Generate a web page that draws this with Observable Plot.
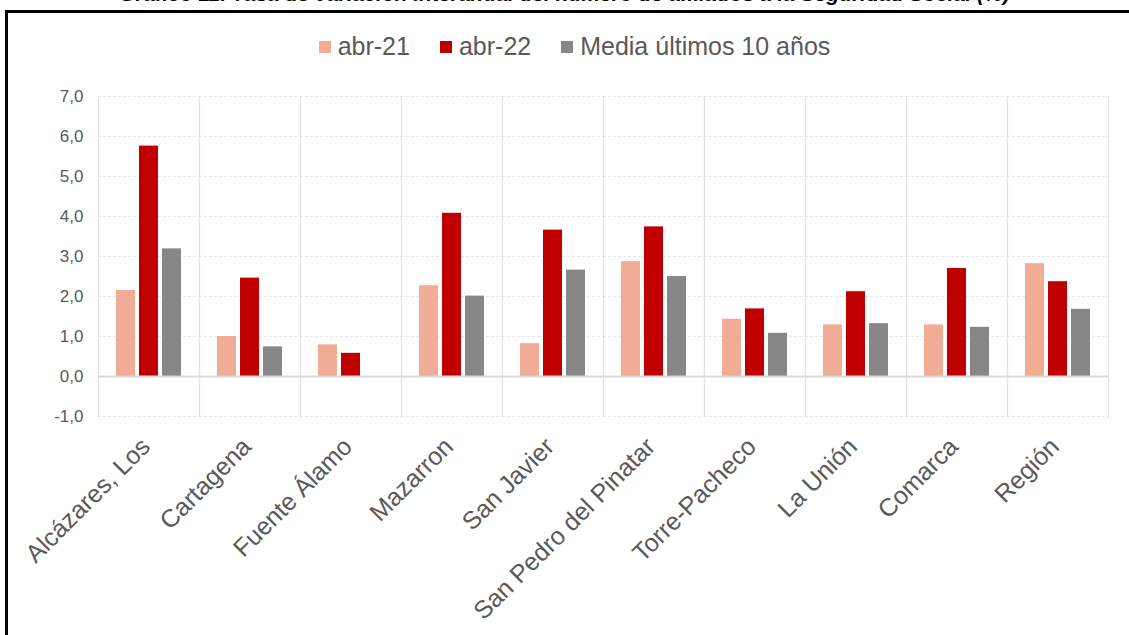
<!DOCTYPE html>
<html>
<head>
<meta charset="utf-8">
<script src="https://cdn.jsdelivr.net/npm/d3@7"></script>
<script src="https://cdn.jsdelivr.net/npm/@observablehq/plot@0.6"></script>
<style>
  html, body { margin: 0; padding: 0; background: #fff; overflow: hidden; }
  #wrap { position: relative; width: 1129px; height: 635px; overflow: hidden; font-family: "Liberation Sans", Arial, sans-serif; }
  #title { position: absolute; left: 0; width: 1129px; top: -18px; text-align: center; font-weight: bold; font-style: italic; font-size: 21px; color: #000; white-space: nowrap; }
  #frame { position: absolute; left: 5px; top: 10px; width: 1200px; height: 700px; border: 3px solid #000; box-sizing: border-box; }
  #legend { position: absolute; left: 10px; top: 32px; width: 1129px; display: flex; justify-content: center; align-items: center; gap: 30px; font-size: 25px; color: #595959; }
  #legend .item { display: flex; align-items: center; gap: 7px; }
  #legend .sw { width: 12px; height: 12px; display: inline-block; }
  #chart { position: absolute; left: 0; top: 80px; }
</style>
</head>
<body>
<div id="wrap">
  <div id="title">Gráfico 11. Tasa de variación interanual del número de afiliados a la Seguridad Social (%)</div>
  <div id="frame"></div>
  <div id="legend"></div>
  <div id="chart"></div>
</div>
<script>
const categories = ["Alcázares, Los", "Cartagena", "Fuente Álamo", "Mazarron", "San Javier", "San Pedro del Pinatar", "Torre-Pacheco", "La Unión", "Comarca", "Región"];
const series = ["abr-21", "abr-22", "Media últimos 10 años"];
const colors = ["#F1AC96", "#C00000", "#878787"];
const abr21 = [2.15, 1.00, 0.79, 2.27, 0.82, 2.87, 1.43, 1.29, 1.29, 2.82];
const abr22 = [5.76, 2.46, 0.58, 4.08, 3.66, 3.74, 1.69, 2.12, 2.70, 2.37];
const media = [3.19, 0.74, null, 2.01, 2.66, 2.50, 1.08, 1.32, 1.23, 1.68];
const yTicks = [-1, 0, 1, 2, 3, 4, 5, 6, 7];

const valuesBySeries = [abr21, abr22, media];
const rows = [];
categories.forEach((c, i) => {
  series.forEach((s, j) => {
    const v = valuesBySeries[j][i];
    if (v != null) rows.push({cat: c, serie: s, value: v});
  });
});

// Legend
const legend = document.getElementById("legend");
series.forEach((s, j) => {
  const item = document.createElement("div");
  item.className = "item";
  const sw = document.createElement("span");
  sw.className = "sw";
  sw.style.background = colors[j];
  const t = document.createElement("span");
  t.textContent = s;
  item.appendChild(sw); item.appendChild(t);
  legend.appendChild(item);
});

const fmt = d => d.toFixed(1).replace(".", ",");

const chart = Plot.plot({
  width: 1129,
  height: 555,
  marginLeft: 96,
  marginRight: 19,
  marginTop: 16,
  marginBottom: 219,
  style: {fontFamily: "'Liberation Sans', Arial, sans-serif", fontSize: "17px", color: "#595959", background: "transparent"},
  fx: {domain: categories, padding: 0, label: null},
  x: {domain: series, paddingInner: 0.1875, paddingOuter: 0.7, axis: null},
  y: {domain: [-1, 7], label: null},
  color: {domain: series, range: colors},
  marks: [
    Plot.gridY(yTicks, {stroke: "#e6e6e6", strokeOpacity: 1, strokeDasharray: "3,2"}),
    Plot.frame({anchor: "left", stroke: "#e3e3e3", strokeWidth: 1.2}),
    Plot.frame({anchor: "right", stroke: "#e3e3e3", strokeWidth: 1.2}),
    Plot.barY(rows, {fx: "cat", x: "serie", y: "value", fill: "serie"}),
    Plot.ruleY([0], {stroke: "#d9d9d9", strokeWidth: 2}),
    Plot.axisY(yTicks, {tickSize: 0, tickPadding: 15, tickFormat: fmt, fontSize: 17, fill: "#595959"}),
    Plot.axisFx({anchor: "bottom", tickRotate: -45, tickSize: 0, tickPadding: 26, dx: -3, fontSize: 25, fill: "#595959", label: null})
  ]
});
document.getElementById("chart").appendChild(chart);
</script>
</body>
</html>
